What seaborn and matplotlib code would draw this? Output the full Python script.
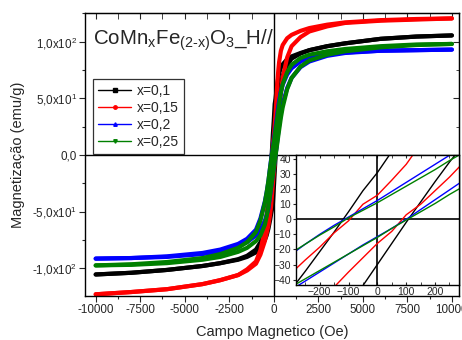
import numpy as np
import pandas as pd
import seaborn as sns
import matplotlib.pyplot as plt
from matplotlib.lines import Line2D
from matplotlib.ticker import MultipleLocator

sns.set_style("ticks")
plt.rcParams['font.family'] = ['Liberation Sans', 'DejaVu Sans']
plt.rcParams['mathtext.fontset'] = 'custom'
plt.rcParams['mathtext.rm'] = 'Liberation Sans'
plt.rcParams['mathtext.it'] = 'Liberation Sans'
plt.rcParams['mathtext.default'] = 'regular'

# campo (Oe) - ramo descendente (+H -> -H) e ascendente (-H -> +H)
H_desc = [10000, 8000, 6000, 4000, 3000, 2000, 1500, 1000, 750, 500, 400, 300, 250, 200, 150, 100, 50, 0,
          -50, -100, -150, -200, -250, -300, -400, -500, -750, -1000, -1500, -2000, -3000, -4000, -6000, -8000, -10000]
H_asc = [-10000, -8000, -6000, -4000, -3000, -2000, -1500, -1000, -750, -500, -400, -300, -250, -200, -150, -100, -50, 0,
         50, 100, 150, 200, 250, 300, 400, 500, 750, 1000, 1500, 2000, 3000, 4000, 6000, 8000, 10000]

# magnetizacao (emu/g)
M_desc_01 = [105.5, 104.5, 102.5, 98.5, 96, 92.5, 90, 87, 84.5, 80, 77, 72, 68, 63, 57, 50, 45, 31,
             19, 5, -8.5, -21.5, -34.5, -47, -59, -67, -77, -83.5, -89, -92, -95.5, -98, -101.5, -104, -105.5]
M_asc_01 = [-105.5, -104, -101.5, -98, -95.5, -92.5, -90, -86, -82, -75, -71, -65, -61, -57, -52, -48, -44, -30,
            -16, -2, 11.5, 25, 38, 50, 62, 70, 79, 85, 89.5, 92.5, 96, 98.5, 102.5, 104.5, 105.5]

M_desc_015 = [120.5, 120, 119, 117, 115, 112, 109.5, 106, 103, 97, 92, 82, 74, 64, 50, 36.5, 26, 16,
              10, -1, -9, -18.5, -27, -36, -53, -66, -84, -94, -101, -106, -110.5, -114, -118.5, -121, -123]
M_asc_015 = [-123, -121, -118.5, -114, -110.5, -106, -102, -96, -88, -76, -69, -62, -57, -52, -45, -35, -25.5, -16,
             -8, 3, 10, 19, 28, 38, 55, 68, 86, 96, 104, 109, 113.5, 116.5, 118.5, 119.5, 120.5]

M_desc_02 = [93, 92.5, 92, 90.5, 89, 86, 82.5, 76.5, 71, 62, 56, 48, 42.5, 36.5, 30.5, 24.5, 18.5, 12.5,
             7, 1.5, -4, -10, -16.5, -23.5, -33, -41, -56, -66, -74, -78.5, -83.5, -86.5, -89.5, -91, -91.5]
M_asc_02 = [-91.5, -91, -90, -87.5, -85, -80.5, -77, -71, -66, -58, -53, -47, -41, -35, -29, -23, -17, -11.5,
            -6, 0, 6.5, 13, 19.5, 26, 37, 45, 59, 68, 77.5, 82.5, 87.5, 90, 92, 92.5, 93]

M_desc_025 = [98, 97.5, 96, 93.5, 91.5, 88.5, 85.5, 79.5, 73, 62.5, 55, 44.5, 39, 33, 27.5, 22, 16.5, 11,
              6, 1, -5, -10.5, -16.5, -22.5, -33, -42, -58, -68, -77, -82, -87.5, -91, -94.5, -96.5, -97.5]
M_asc_025 = [-97.5, -97, -95.5, -92.5, -90, -85.5, -82, -76, -71, -61.5, -54, -45, -39.5, -34, -28.5, -23, -17.5, -12,
             -6, -0.5, 5, 10.5, 16.5, 22, 33, 42, 58, 68, 78, 83.5, 88.5, 91.5, 95, 97, 98]

amostras = ["x=0,1", "x=0,15", "x=0,2", "x=0,25"]
cores = ["#000000", "#ff0000", "#0000ff", "#008000"]
marcadores = ["s", "o", "^", "v"]

ramos = {
    "x=0,1": (M_desc_01, M_asc_01),
    "x=0,15": (M_desc_015, M_asc_015),
    "x=0,2": (M_desc_02, M_asc_02),
    "x=0,25": (M_desc_025, M_asc_025),
}

linhas = []
for nome in amostras:
    desc, asc = ramos[nome]
    linhas.append(pd.DataFrame({"H": H_desc, "M": desc, "amostra": nome, "ramo": "desc"}))
    linhas.append(pd.DataFrame({"H": H_asc, "M": asc, "amostra": nome, "ramo": "asc"}))
df = pd.concat(linhas, ignore_index=True)
paleta = dict(zip(amostras, cores))

fig = plt.figure(figsize=(4.62, 3.40), dpi=100)
ax = fig.add_axes([85 / 462, 1 - 296 / 340, 374 / 462, 283 / 340])

ax.axhline(0, color="k", lw=1, zorder=1)
ax.axvline(0, color="k", lw=1, zorder=1)
sns.lineplot(data=df, x="H", y="M", hue="amostra", hue_order=amostras, units="ramo",
             estimator=None, sort=False, palette=paleta, lw=3, legend=False, ax=ax)

ax.set_xlim(-10600, 10400)
ax.set_ylim(-124.5, 125.3)
xt = [-10000, -7500, -5000, -2500, 0, 2500, 5000, 7500, 10000]
ax.set_xticks(xt)
ax.set_xticklabels([str(v) for v in xt], fontsize=8.4)
yt = [-100, -50, 0, 50, 100]
ax.set_yticks(yt)
ax.set_yticklabels([r"-1,0x10$^{2}$", r"-5,0x10$^{1}$", "0,0", r"5,0x10$^{1}$", r"1,0x10$^{2}$"], fontsize=8.4)
ax.xaxis.set_minor_locator(MultipleLocator(1250))
ax.yaxis.set_minor_locator(MultipleLocator(25))
ax.tick_params(which="major", direction="out", length=4, width=0.8, pad=2)
ax.tick_params(which="minor", direction="out", length=2, width=0.8)
ax.set_xlabel("Campo Magnetico (Oe)", fontsize=10.5, labelpad=6)
ax.set_ylabel("Magnetização (emu/g)", fontsize=10.5, labelpad=5)
for s in ax.spines.values():
    s.set_linewidth(1)
    s.set_color("k")

topo = ax.secondary_xaxis("top")
topo.set_xticks(xt)
topo.xaxis.set_minor_locator(MultipleLocator(1250))
topo.tick_params(which="major", direction="in", length=4, labeltop=False)
topo.tick_params(which="minor", direction="in", length=4)
dir_ = ax.secondary_yaxis("right")
dir_.set_yticks(yt)
dir_.yaxis.set_minor_locator(MultipleLocator(25))
dir_.tick_params(which="major", direction="in", length=4, labelright=False)
dir_.tick_params(which="minor", direction="in", length=2)

ax.text(0.021, 0.887, r"CoMn$_{x}$Fe$_{(2\text{-}x)}$O$_{3}$_H//", transform=ax.transAxes,
        fontsize=14.8, va="baseline", ha="left")

handles = [Line2D([0], [0], color=c, marker=m, markersize=2.5, lw=1) for c, m in zip(cores, marcadores)]
leg = ax.legend(handles, amostras, loc="upper left", bbox_to_anchor=(0.0214, 0.767), fontsize=10,
                frameon=True, fancybox=False, edgecolor="k", handlelength=2.4, labelspacing=0.22,
                borderpad=0.35, handletextpad=0.4, borderaxespad=0)
leg.get_frame().set_linewidth(0.9)

# inset: ampliacao da regiao central
axi = fig.add_axes([296 / 462, 1 - 285 / 340, 163 / 462, 130 / 340])
axi.set_facecolor("white")
axi.axhline(0, color="k", lw=1.2, zorder=1)
axi.axvline(0, color="k", lw=1.2, zorder=1)
sns.lineplot(data=df, x="H", y="M", hue="amostra", hue_order=amostras, units="ramo",
             estimator=None, sort=False, palette=paleta, lw=1, legend=False, ax=axi)
axi.set_xlim(-282, 283)
axi.set_ylim(-43.6, 42.7)
axi.set_xticks([-200, -100, 0, 100, 200])
axi.set_yticks([-40, -30, -20, -10, 0, 10, 20, 30, 40])
axi.xaxis.set_minor_locator(MultipleLocator(50))
axi.tick_params(axis="x", which="both", direction="in", top=True, length=2.5, labelsize=7.5, pad=1.5)
axi.tick_params(axis="y", which="both", direction="out", right=False, length=2.5, labelsize=7.5, pad=1)
axi.set_xlabel("")
axi.set_ylabel("")
for s in axi.spines.values():
    s.set_linewidth(1)
    s.set_color("k")

fig.savefig("out.png", dpi=100)
